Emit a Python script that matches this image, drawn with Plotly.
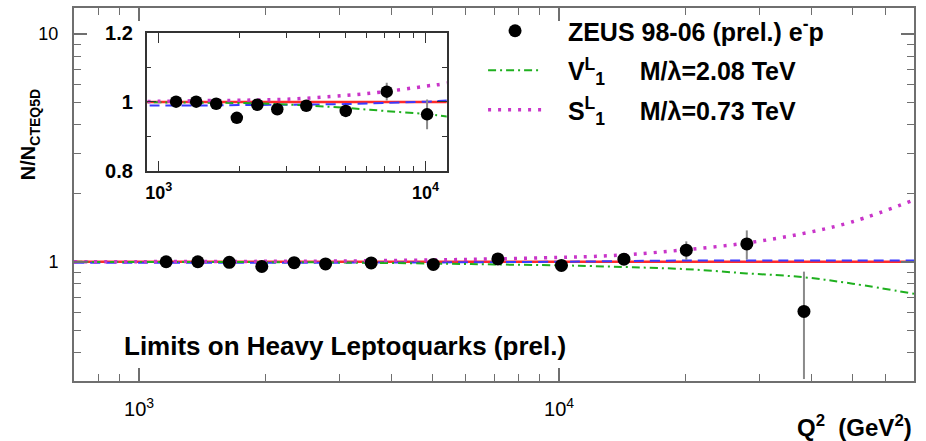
import math
import plotly.graph_objects as go

# ZEUS 98-06 e-p NC cross-section ratio to CTEQ5D prediction
q2 = [1160, 1380, 1640, 1960, 2340, 2780, 3570, 5020, 7150, 10130, 14270, 20090, 27990, 38290]
ratio = [1.001, 1.001, 0.995, 0.954, 0.992, 0.979, 0.989, 0.974, 1.030, 0.964, 1.027, 1.125, 1.199, 0.606]
ratio_err = [0.008, 0.008, 0.009, 0.010, 0.011, 0.012, 0.012, 0.016, 0.026, 0.043, 0.040, 0.105, 0.175, 0.300]

# Model curves (ratio to CTEQ5D)
curve_q2 = [700, 1000, 1500, 2000, 3000, 5000, 7000, 10000, 12000, 15000, 20000, 28000, 38000, 50000, 70000]
sm_ratio = [1.0] * len(curve_q2)
alt_ratio = [0.990, 0.990, 0.990, 0.991, 0.992, 0.994, 0.997, 1.001, 1.004, 1.009, 1.013, 1.014, 1.014, 1.014, 1.014]
v1l_ratio = [1.000, 0.999, 0.998, 0.997, 0.993, 0.983, 0.974, 0.965, 0.958, 0.947, 0.929, 0.890, 0.857, 0.802, 0.724]
s1l_ratio = [1.001, 1.002, 1.004, 1.005, 1.008, 1.019, 1.030, 1.046, 1.055, 1.080, 1.130, 1.210, 1.330, 1.500, 1.870]

data_label = "   ZEUS 98-06 (prel.) e<sup>-</sup>p"
v1l_label = "   V<sup>L</sup><sub>1</sub>     M/λ=2.08 TeV"
s1l_label = "   S<sup>L</sup><sub>1</sub>     M/λ=0.73 TeV"

main_x_ticks = [1e3, 1e4]
main_x_text = ["10<sup>3</sup>", "10<sup>4</sup>"]
main_x_minor = [700, 800, 900, 2000, 3000, 4000, 5000, 6000, 7000, 8000, 9000,
                20000, 30000, 40000, 50000, 60000, 70000]
main_y_ticks = [1, 10]
main_y_text = ["1", "10"]
main_y_minor = [0.3, 0.4, 0.5, 0.6, 0.7, 0.8, 0.9, 2, 3, 4, 5, 6, 7, 8, 9]

inset_x_ticks = [1e3, 1e4]
inset_x_text = ["10<sup>3</sup>", "10<sup>4</sup>"]
inset_x_minor = [900, 2000, 3000, 4000, 5000, 6000, 7000, 8000, 9000]
inset_y_ticks = [0.8, 1.0, 1.2]
inset_y_text = ["0.8", "1", "1.2"]
inset_y_minor = [0.9, 1.1]

FONT = "Liberation Sans, Arial, sans-serif"
RED = "#ff2a2a"
BLUE = "#3a3aff"
GREEN = "#1fb01f"
MAGENTA = "#c935c9"

fig = go.Figure()


def add_curves(xa, ya, legend):
    fig.add_trace(go.Scatter(x=curve_q2, y=sm_ratio, mode="lines", xaxis=xa, yaxis=ya,
                             line=dict(color=RED, width=2.5), showlegend=False, hoverinfo="skip"))
    fig.add_trace(go.Scatter(x=curve_q2, y=alt_ratio, mode="lines", xaxis=xa, yaxis=ya,
                             line=dict(color=BLUE, width=2, dash="10px,6px", shape="spline"),
                             showlegend=False, hoverinfo="skip"))
    fig.add_trace(go.Scatter(x=curve_q2, y=v1l_ratio, mode="lines", xaxis=xa, yaxis=ya, name=v1l_label,
                             line=dict(color=GREEN, width=2, dash="8px,4px,2px,4px", shape="spline"),
                             showlegend=legend, legendrank=2, legendgroup="v1l", hoverinfo="skip"))
    fig.add_trace(go.Scatter(x=curve_q2, y=s1l_ratio, mode="lines", xaxis=xa, yaxis=ya, name=s1l_label,
                             line=dict(color=MAGENTA, width=3.5, dash="3px,7px", shape="spline"),
                             showlegend=legend, legendrank=3, legendgroup="s1l", hoverinfo="skip"))


def add_data(xa, ya, legend, size):
    fig.add_trace(go.Scatter(x=q2, y=ratio, mode="markers", xaxis=xa, yaxis=ya, name=data_label,
                             marker=dict(color="black", size=size),
                             error_y=dict(type="data", array=ratio_err, color="#8a8a8a",
                                          thickness=2, width=0),
                             showlegend=legend, legendrank=1, legendgroup="data"))


add_curves("x", "y", True)
add_curves("x2", "y2", False)
add_data("x", "y", True, 13)
add_data("x2", "y2", False, 12.5)

frame_main = "#6f6f6f"
frame_inset = "#333333"

fig.update_layout(
    width=926, height=441,
    margin=dict(l=74, r=12, t=8, b=60, autoexpand=False),
    paper_bgcolor="white", plot_bgcolor="white",
    font=dict(family=FONT, color="black"),
    xaxis=dict(type="log", range=[math.log10(700), math.log10(70000)], domain=[0, 1],
               automargin=False,
               tickmode="array", tickvals=main_x_ticks, ticktext=main_x_text,
               ticks="inside", ticklen=13, tickwidth=1.5, tickcolor=frame_main,
               showline=True, linecolor=frame_main, linewidth=2, mirror="allticks",
               showgrid=False, zeroline=False, tickfont=dict(size=20),
               ticklabelstandoff=9,
               minor=dict(tickmode="array", tickvals=main_x_minor, ticks="inside",
                          ticklen=7, tickwidth=1.2, tickcolor=frame_main, showgrid=False)),
    yaxis=dict(type="log", range=[math.log10(0.3), math.log10(13)], domain=[0, 1],
               automargin=False,
               tickmode="array", tickvals=main_y_ticks, ticktext=main_y_text,
               ticks="inside", ticklen=13, tickwidth=1.5, tickcolor=frame_main,
               showline=True, linecolor=frame_main, linewidth=2, mirror="allticks",
               showgrid=False, zeroline=False, tickfont=dict(size=18),
               ticklabelstandoff=10,
               minor=dict(tickmode="array", tickvals=main_y_minor, ticks="inside",
                          ticklen=7, tickwidth=1.2, tickcolor=frame_main, showgrid=False)),
    xaxis2=dict(type="log", range=[math.log10(900), math.log10(12000)], domain=[0.0865, 0.4437],
                anchor="y2", automargin=False,
                tickmode="array", tickvals=inset_x_ticks, ticktext=inset_x_text,
                ticks="inside", ticklen=10, tickwidth=1.3, tickcolor=frame_inset,
                showline=True, linecolor=frame_inset, linewidth=1.5, mirror="allticks",
                showgrid=False, zeroline=False,
                tickfont=dict(size=18, weight=700), ticklabelstandoff=5,
                minor=dict(tickmode="array", tickvals=inset_x_minor, ticks="inside",
                           ticklen=5, tickwidth=1.1, tickcolor=frame_inset, showgrid=False)),
    yaxis2=dict(range=[0.8, 1.2], domain=[0.5638, 0.9322], anchor="x2", automargin=False,
                tickmode="array", tickvals=inset_y_ticks, ticktext=inset_y_text,
                ticks="inside", ticklen=10, tickwidth=1.3, tickcolor=frame_inset,
                showline=True, linecolor=frame_inset, linewidth=1.5, mirror="allticks",
                showgrid=False, zeroline=False,
                tickfont=dict(size=20, weight=700), ticklabelstandoff=8,
                minor=dict(tickmode="array", tickvals=inset_y_minor, ticks="inside",
                           ticklen=5, tickwidth=1.1, tickcolor=frame_inset, showgrid=False)),
    legend=dict(x=0.487, y=1.0, xanchor="left", yanchor="top",
                bgcolor="rgba(0,0,0,0)", borderwidth=0,
                font=dict(size=25, weight=700, family=FONT),
                itemwidth=54, tracegroupgap=4),
    showlegend=True,
    annotations=[
        dict(text="Limits on Heavy Leptoquarks (prel.)", xref="paper", yref="paper",
             x=0.0571, y=0.094, xanchor="left", yanchor="middle", showarrow=False,
             font=dict(size=26, weight=700, family=FONT)),
        dict(text="Q<sup>2</sup>  (GeV<sup>2</sup>)", xref="paper", yref="paper",
             x=1.0, y=-0.12, xanchor="right", yanchor="middle", showarrow=False,
             font=dict(size=24, weight=700, family=FONT)),
        dict(text="N/N<sub>CTEQ5D</sub>", xref="paper", yref="paper", textangle=-90,
             x=-0.052, y=0.66, xanchor="center", yanchor="middle", showarrow=False,
             font=dict(size=20, weight=700, family=FONT)),
    ],
)

fig.write_html("out.html")
